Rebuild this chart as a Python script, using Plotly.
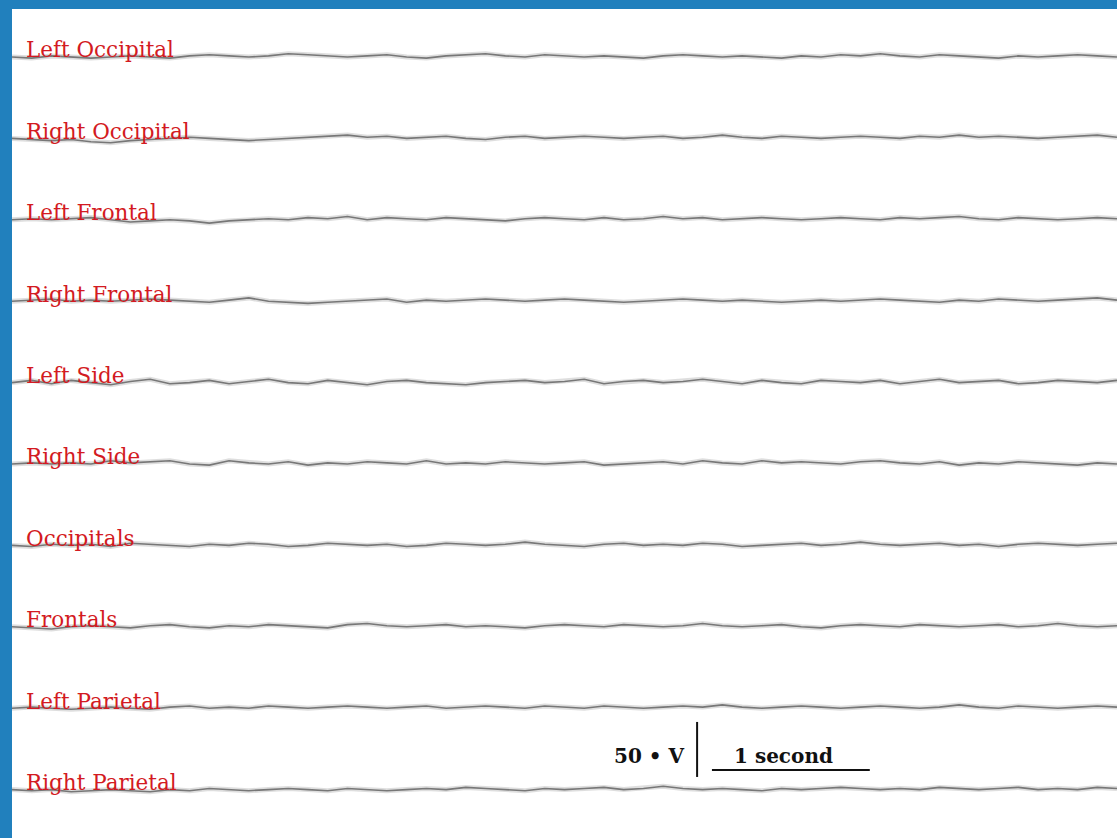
import numpy as np
import plotly.graph_objects as go

# Channel names, top to bottom
CHANNELS = [
    "Left Occipital", "Right Occipital", "Left Frontal", "Right Frontal",
    "Left Side", "Right Side", "Occipitals", "Frontals",
    "Left Parietal", "Right Parietal",
]

# Sample times (s), 8 samples per second over 7 seconds
TIME = [round(i * 0.125, 3) for i in range(57)]

# Amplitudes in microvolts, one list per channel
LEFT_OCCIPITAL = [0, -1, 1, 0, -1, 0, 1, 0, -1, 1, 2, 1, 0, 1, 3, 2, 1, 0, 1, 2,
                  0, -1, 1, 2, 3, 1, 0, 2, 1, 0, 1, 0, -1, 1, 2, 1, 0, 1, 0, -1,
                  1, 0, 2, 1, 3, 1, 0, 2, 1, 0, -1, 1, 0, 1, 2, 1, 0]
RIGHT_OCCIPITAL = [0, -1, -2, -1, -3, -4, -2, -1, 0, 1, 0, -1, -2, -1, 0, 1, 2, 3, 1, 2,
                   0, 1, 2, 0, -1, 1, 2, 0, 1, 2, 1, 0, 1, 2, 0, 1, 3, 1, 0, 2,
                   1, 0, 1, 2, 1, 0, 2, 1, 3, 1, 2, 1, 0, 1, 2, 3, 1]
LEFT_FRONTAL = [0, 1, 0, 1, 2, 0, -2, -1, 0, -1, -3, -1, 0, 1, 0, 2, 1, 3, 0, 2,
                1, 0, 2, 1, 0, -1, 1, 2, 1, 0, 2, 0, 1, 3, 1, 2, 0, 1, 2, 1,
                0, 1, 2, 1, 0, 2, 1, 2, 3, 1, 0, 2, 1, 0, 1, 2, 1]
RIGHT_FRONTAL = [0, 1, 2, 0, 1, 0, 1, 2, 1, 0, -1, 1, 3, 0, -1, -2, -1, 0, 1, 2,
                 -1, 1, 0, 1, 2, 1, 0, 1, 2, 1, 0, -1, 0, 1, 2, 1, 0, 1, 0, -1,
                 0, 1, 0, 1, 2, 1, 0, -1, 1, 0, 2, 1, 0, 1, 2, 3, 1]
LEFT_SIDE = [0, 2, -1, 2, 0, -2, 1, 3, -1, 0, 2, -1, 1, 3, 0, -1, 2, 0, -2, 1,
             2, 0, -1, -2, 0, 1, 2, 0, 1, 3, -1, 1, 2, 0, 1, 3, 1, -1, 2, 0,
             -1, 2, 1, 0, 2, -1, 1, 3, 0, 1, 2, -1, 0, 2, 1, 0, 2]
RIGHT_SIDE = [0, 1, 0, 1, 0, 3, 1, 2, 3, 0, -1, 3, 1, 0, 2, -1, 1, 0, 2, 1,
              0, 3, 0, 1, 0, 2, 1, 0, 1, 2, -1, 0, 1, 2, 0, 3, 1, 0, 3, 1,
              2, 1, 0, 2, 3, 1, 0, 2, -1, 1, 0, 2, 1, 0, -1, 1, 0]
OCCIPITALS = [0, -1, 1, 0, 1, -1, 2, 1, 0, -1, 1, 0, 2, 1, -1, 0, 2, 1, 0, 1,
              -1, 0, 2, 1, 0, 1, 3, 1, 0, -1, 1, 2, 0, 1, 0, 2, 1, -1, 0, 1,
              2, 0, 1, 3, 1, 0, 1, 2, 0, 1, -1, 1, 2, 1, 0, 1, 2]
FRONTALS = [0, -1, -2, 0, 1, 0, -1, 1, 2, 0, -1, 1, 0, 2, 1, 0, -1, 2, 3, 1,
            0, 1, 2, 0, 1, 0, -1, 1, 2, 1, 0, 2, 1, 0, 1, 3, 1, 0, 1, 2,
            0, -1, 1, 2, 1, 0, 2, 1, 0, 1, 2, 0, 1, 3, 1, 0, 1]
LEFT_PARIETAL = [0, 1, 0, -1, 0, 1, 0, -1, 1, 2, 0, 1, 0, 2, 1, 0, 1, 2, 1, 0,
                 1, 2, 0, 1, 2, 1, 0, 2, 1, 0, 2, 1, 0, 1, 2, 1, 3, 1, 0, 1,
                 2, 1, 0, 1, 2, 1, 0, 1, 3, 1, 0, 2, 1, 0, 1, 2, 1]
RIGHT_PARIETAL = [0, -1, 0, -2, -1, 0, -1, -2, 0, -1, 1, 0, -1, 0, 1, 0, -1, 1, 0, -1,
                  0, 1, 0, 2, 1, 0, -1, 1, 0, 1, 2, 0, 1, 3, 1, 0, 1, 0, -1, 1,
                  0, 1, 2, 1, 0, 1, 0, 2, 1, 0, 1, 2, 0, 1, 0, 2, 1]

SIGNALS = [LEFT_OCCIPITAL, RIGHT_OCCIPITAL, LEFT_FRONTAL, RIGHT_FRONTAL, LEFT_SIDE,
           RIGHT_SIDE, OCCIPITALS, FRONTALS, LEFT_PARIETAL, RIGHT_PARIETAL]

# Vertical spacing between channel baselines (uV) and the top baseline
SPACING = 74.0
TOP_BASELINE = 710.0

# Calibration bar values
SCALE_UV = 50
SCALE_SEC = 1

fig = go.Figure()

for i, (name, sig) in enumerate(zip(CHANNELS, SIGNALS)):
    base = TOP_BASELINE - SPACING * i
    y = [base + v for v in sig]
    # soft halo under the pen line
    fig.add_trace(go.Scatter(x=TIME, y=y, mode="lines",
                             line=dict(color="rgba(160,160,160,0.35)", width=5),
                             hoverinfo="skip", showlegend=False))
    fig.add_trace(go.Scatter(x=TIME, y=y, mode="lines", name=name,
                             line=dict(color="#777777", width=1.6),
                             showlegend=False))
    fig.add_annotation(x=0.075, y=base + 6.5, xref="x", yref="y", text=name,
                       showarrow=False, xanchor="left", yanchor="middle",
                       font=dict(family="DejaVu Serif", size=21.5, color="#d31a22"))

# Calibration: 50 uV vertical bar and 1 second horizontal bar
bar_x = 4.34
bar_y0 = 55.5
fig.add_trace(go.Scatter(x=[bar_x, bar_x], y=[bar_y0, bar_y0 + SCALE_UV], mode="lines",
                         line=dict(color="#111111", width=2), hoverinfo="skip",
                         showlegend=False))
sec_x0 = 4.434
sec_y = 61.8
fig.add_trace(go.Scatter(x=[sec_x0, sec_x0 + SCALE_SEC], y=[sec_y, sec_y], mode="lines",
                         line=dict(color="#111111", width=2), hoverinfo="skip",
                         showlegend=False))
fig.add_annotation(x=bar_x - 0.065, y=74.5, text=f"<b>{SCALE_UV} • V</b>", showarrow=False,
                   xanchor="right", yanchor="middle",
                   font=dict(family="DejaVu Serif", size=20, color="#111111"))
fig.add_annotation(x=sec_x0 + 0.13, y=74.5, text=f"<b>{SCALE_SEC} second</b>",
                   showarrow=False, xanchor="left", yanchor="middle",
                   font=dict(family="DejaVu Serif", size=20, color="#111111"))

fig.update_xaxes(range=[0, 7.0], visible=False, fixedrange=True)
fig.update_yaxes(range=[0, 829 / 1.1], visible=False, fixedrange=True)
fig.update_layout(
    width=1117, height=838,
    margin=dict(l=12, r=0, t=9, b=0),
    paper_bgcolor="#2180bd",
    plot_bgcolor="#ffffff",
)

fig.write_html("out.html")
